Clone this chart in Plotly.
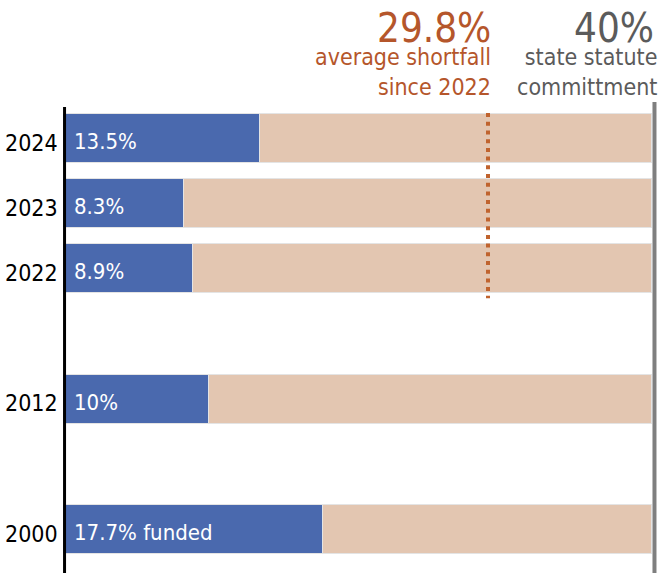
import plotly.graph_objects as go

years = ["2024", "2023", "2022", "2012", "2000"]
slot = [0, 1, 2, 4, 6]  # vertical slot of each year (gaps between eras)
funded = [13.5, 8.3, 8.9, 10.0, 17.7]
bar_labels = ["13.5%", "8.3%", "8.9%", "10%", "17.7% funded"]
statute = 40.0
avg_shortfall = 29.8
shortfall_marker_x = 28.9  # where the reference places the dotted marker

FONT = "DejaVu Sans Condensed, Liberation Sans Narrow, sans-serif"
BLUE = "#4a69ae"
BEIGE = "#e3c6b1"
ORANGE = "#b5562b"
GRAY = "#5b5b5b"

remaining = [statute - f for f in funded]

fig = go.Figure()
fig.add_trace(go.Bar(
    y=slot, x=funded, orientation="h", width=0.75,
    marker=dict(color=BLUE, line=dict(color="#e4e4e4", width=1)),
    hoverinfo="skip",
))
fig.add_trace(go.Bar(
    y=slot, x=remaining, base=funded, orientation="h", width=0.75,
    marker=dict(color=BEIGE, line=dict(color="#e4e4e4", width=1)),
    hoverinfo="skip",
))

annotations = []
for s, lab in zip(slot, bar_labels):
    annotations.append(dict(x=0, y=s, xref="x", yref="y", text=lab, showarrow=False,
                            xanchor="left", yanchor="middle", xshift=11, yshift=-3,
                            font=dict(family=FONT, size=22, color="white")))
for s, yr in zip(slot, years):
    annotations.append(dict(x=0, y=s, xref="paper", yref="y", text=yr, showarrow=False,
                            xanchor="right", yanchor="middle", xshift=-1, yshift=-4,
                            font=dict(family=FONT, size=23, color="black")))

# header notes
annotations += [
    dict(x=shortfall_marker_x, y=1.153, xref="x", yref="paper", text=f"{avg_shortfall}%",
         showarrow=False, xanchor="right", yanchor="middle", xshift=5,
         font=dict(family=FONT, size=40, color=ORANGE)),
    dict(x=shortfall_marker_x, y=1.06, xref="x", yref="paper",
         text="average shortfall<br>since 2022", showarrow=False,
         xanchor="right", yanchor="middle", align="right", xshift=5,
         font=dict(family=FONT, size=23, color=ORANGE)),
    dict(x=statute, y=1.153, xref="x", yref="paper", text=f"{statute:.0f}%",
         showarrow=False, xanchor="right", yanchor="middle", xshift=4,
         font=dict(family=FONT, size=40, color=GRAY)),
    dict(x=statute, y=1.06, xref="x", yref="paper",
         text="state statute<br>committment", showarrow=False,
         xanchor="right", yanchor="middle", align="right", xshift=7,
         font=dict(family=FONT, size=23, color=GRAY)),
]

shapes = [
    # clean strip left of the axis line
    dict(type="rect", xref="paper", yref="paper", x0=-0.002, x1=0.004, y0=0, y1=1,
         fillcolor="white", line=dict(width=0), layer="above"),
    # left axis line
    dict(type="line", xref="paper", yref="paper", x0=0.006, x1=0.006, y0=0, y1=0.985,
         line=dict(color="black", width=3), layer="above"),
    # statute line
    dict(type="line", xref="paper", yref="paper", x0=1.0042, x1=1.0042, y0=0, y1=0.996,
         line=dict(color="#7f7f7f", width=4), layer="above"),
    # average shortfall dotted marker
    dict(type="line", xref="x", yref="y", x0=shortfall_marker_x, x1=shortfall_marker_x,
         y0=-0.39, y1=2.45, line=dict(color="#c0632e", width=4, dash="4px,4.7px"),
         layer="above"),
]

fig.update_layout(
    width=658, height=573,
    margin=dict(l=61, r=6, t=100, b=0),
    barmode="stack", bargap=0,
    showlegend=False,
    plot_bgcolor="white", paper_bgcolor="white",
    xaxis=dict(range=[0, statute], visible=False, fixedrange=True),
    yaxis=dict(range=[6.667, -0.591], visible=False, fixedrange=True),
    annotations=annotations, shapes=shapes,
)

fig.write_html(
    "out.html",
    config={"displayModeBar": False},
    post_script="document.body.style.margin='0';document.body.style.overflow='hidden';",
)
